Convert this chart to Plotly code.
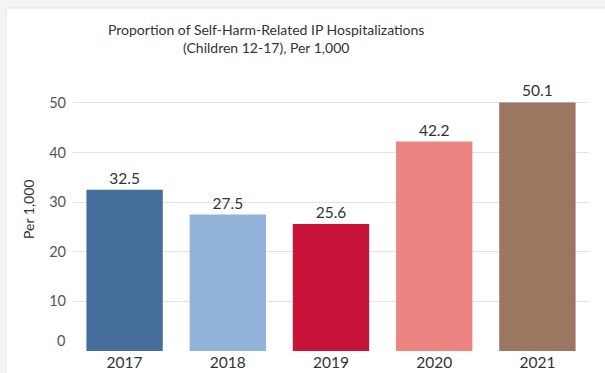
import plotly.graph_objects as go

# Data
years = ["2017", "2018", "2019", "2020", "2021"]
rates = [32.5, 27.5, 25.6, 42.2, 50.1]
bar_colors = ["#466e9c", "#91b3d8", "#c9143a", "#ec8581", "#9b7660"]
y_ticks = [10, 20, 30, 40, 50]

FONT = "Lato, 'Open Sans', sans-serif"
TXT = "#333333"

fig = go.Figure(
    go.Bar(
        x=years,
        y=rates,
        marker=dict(color=bar_colors, line=dict(width=0)),
        text=[f"{v:.1f}" for v in rates],
        textposition="outside",
        textfont=dict(family=FONT, size=15.5, color=TXT),
        cliponaxis=False,
        hoverinfo="skip",
    )
)

fig.update_layout(
    width=605,
    height=373,
    margin=dict(l=73, r=16, t=93, b=22, autoexpand=False),
    paper_bgcolor="#f4f4f4",
    plot_bgcolor="rgba(0,0,0,0)",
    bargap=0.26,
    showlegend=False,
    font=dict(family=FONT, color=TXT),
    shapes=[
        dict(
            type="rect", xref="paper", yref="paper", layer="below",
            x0=(6 - 73) / 516, x1=(610 - 73) / 516,
            y0=-(30 / 258), y1=(351 - 8) / 258,
            fillcolor="white", line=dict(color="#e4e4e4", width=1),
        )
    ],
    annotations=[
        dict(
            text="Proportion of Self-Harm-Related IP Hospitalizations<br>(Children 12-17), Per 1,000",
            xref="paper", yref="paper", x=(266 - 73) / 516, y=(351 - 19) / 258,
            xanchor="center", yanchor="top", showarrow=False,
            font=dict(family=FONT, size=14, color=TXT), align="center",
        ),
        dict(
            text="Per 1,000", textangle=-90, xref="paper", yref="paper",
            x=(28 - 73) / 516, y=(351 - 210) / 258, xanchor="center", yanchor="middle",
            showarrow=False, font=dict(family=FONT, size=14, color=TXT),
        ),
        dict(
            text="0", xref="paper", yref="y", x=0, y=0, xanchor="right", yanchor="middle",
            xshift=-6, yshift=11, showarrow=False,
            font=dict(family=FONT, size=14.5, color="#555555"),
        ),
    ],
)

fig.update_yaxes(
    range=[0, 52],
    tickvals=y_ticks,
    showgrid=True,
    gridcolor="#e2e2e2",
    gridwidth=1,
    zeroline=False,
    showline=False,
    automargin=False,
    tickfont=dict(family=FONT, size=14.5, color="#555555"),
    ticklabelstandoff=6,
)
fig.update_xaxes(
    showgrid=False,
    showline=False,
    automargin=False,
    tickfont=dict(family=FONT, size=15.5, color=TXT),
    ticklabelstandoff=0,
)

fig.write_html("out.html")
